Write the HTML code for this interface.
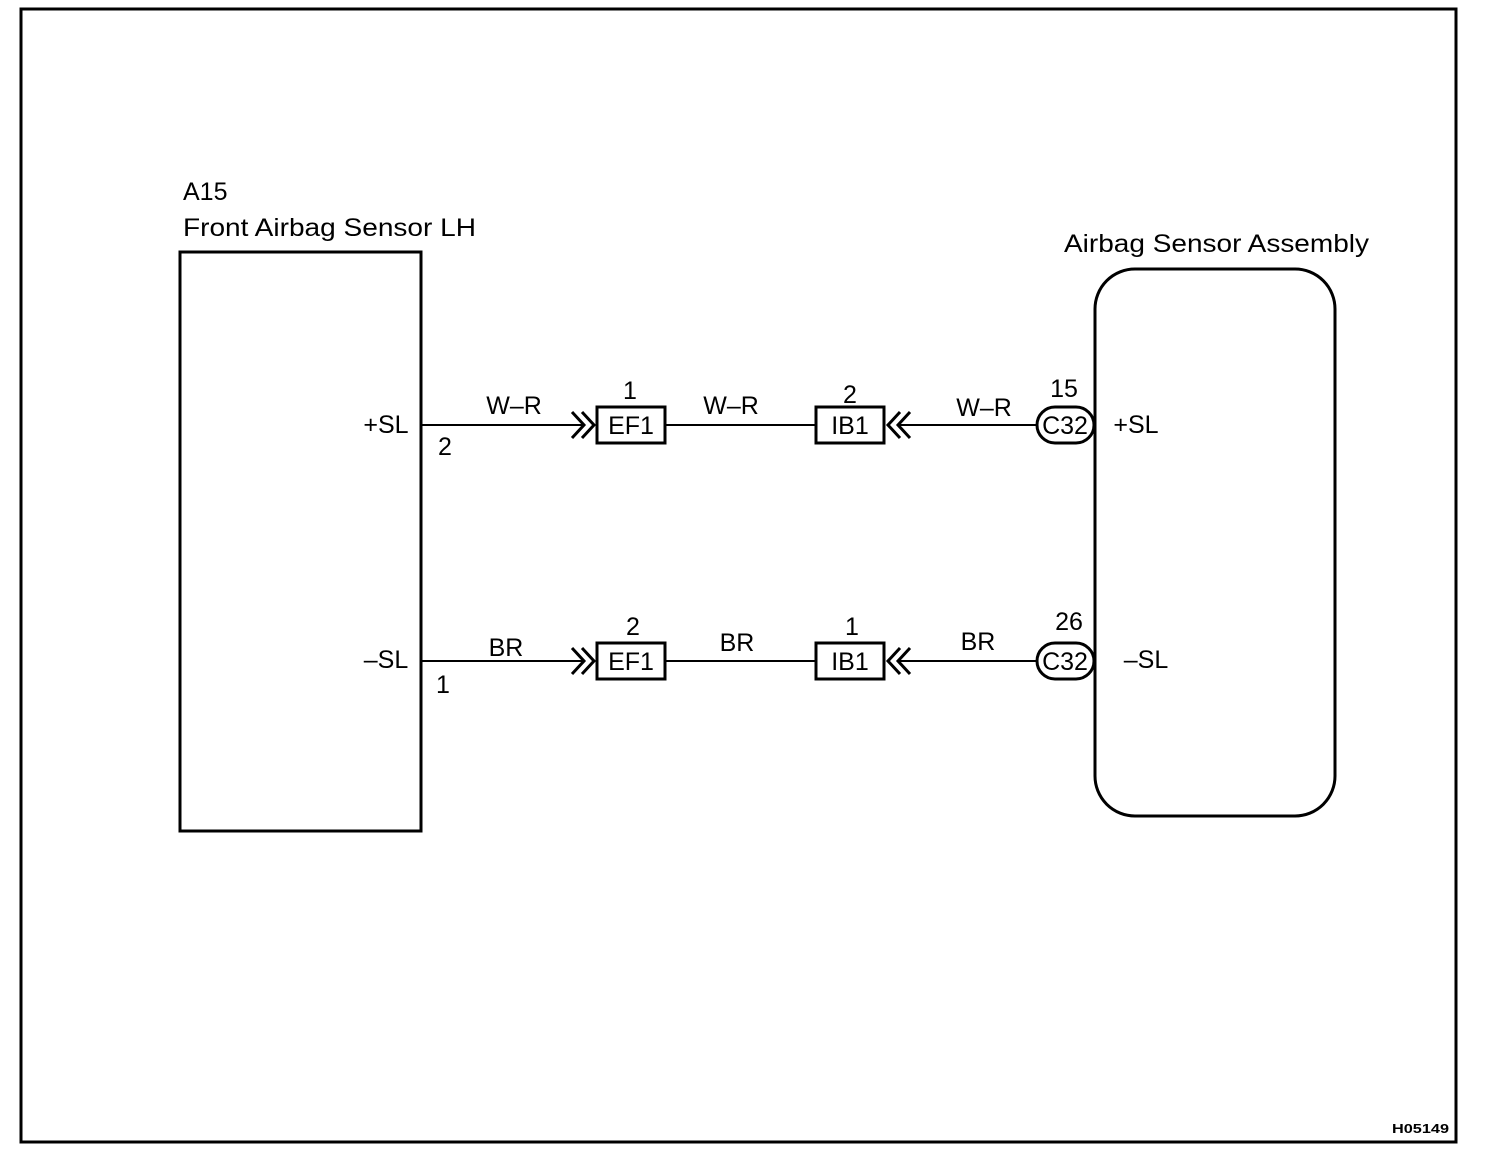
<!DOCTYPE html>
<html><head><style>html,body{margin:0;padding:0;background:#fff}svg{display:block}</style></head>
<body>
<svg width="1504" height="1176" viewBox="0 0 1504 1176" xmlns="http://www.w3.org/2000/svg" font-family="Liberation Sans, Arial, sans-serif" fill="#000">
<rect x="21" y="9" width="1435" height="1133" fill="none" stroke="#000" stroke-width="3"/>
<text x="1392" y="1133" font-size="13" font-weight="bold" textLength="57" lengthAdjust="spacingAndGlyphs">H05149</text>
<text x="183" y="200" font-size="25">A15</text>
<text x="183" y="236" font-size="25" textLength="293" lengthAdjust="spacingAndGlyphs">Front Airbag Sensor LH</text>
<rect x="180" y="252" width="241" height="579" fill="none" stroke="#000" stroke-width="3"/>
<text x="1064" y="252" font-size="25" textLength="305" lengthAdjust="spacingAndGlyphs">Airbag Sensor Assembly</text>
<rect x="1095" y="269" width="240" height="547" rx="40" fill="none" stroke="#000" stroke-width="3"/>
<g stroke="#000" fill="none" stroke-width="2">
<line x1="421" y1="425" x2="584" y2="425"/><line x1="666" y1="425" x2="815" y2="425"/><line x1="898" y1="425" x2="1036" y2="425"/>
<line x1="421" y1="661" x2="584" y2="661"/><line x1="666" y1="661" x2="815" y2="661"/><line x1="898" y1="661" x2="1036" y2="661"/>
</g>
<g stroke="#000" fill="none" stroke-width="3">
<path d="M572 412 L584 425 L572 438 M582 412 L594 425 L582 438"/>
<path d="M572 648 L584 661 L572 674 M582 648 L594 661 L582 674"/>
<path d="M900 412 L888 425 L900 438 M910 412 L898 425 L910 438"/>
<path d="M900 648 L888 661 L900 674 M910 648 L898 661 L910 674"/>
<rect x="597" y="407" width="68" height="36"/><rect x="816" y="407" width="68" height="36"/>
<rect x="597" y="643" width="68" height="36"/><rect x="816" y="643" width="68" height="36"/>
<rect x="1037" y="407" width="57" height="36" rx="18"/><rect x="1037" y="643" width="57" height="36" rx="18"/>
</g>
<g font-size="25" text-anchor="middle">
<text x="631" y="434">EF1</text><text x="850" y="434">IB1</text><text x="1065" y="434">C32</text>
<text x="631" y="670">EF1</text><text x="850" y="670">IB1</text><text x="1065" y="670">C32</text>
<text x="630" y="399">1</text><text x="850" y="403">2</text><text x="1064" y="397">15</text>
<text x="633" y="635">2</text><text x="852" y="635">1</text><text x="1069" y="630">26</text>
<text x="514" y="414">W–R</text><text x="731" y="414">W–R</text><text x="984" y="416">W–R</text>
<text x="506" y="656">BR</text><text x="737" y="651">BR</text><text x="978" y="650">BR</text>
<text x="386" y="433">+SL</text><text x="386" y="668">–SL</text>
<text x="445" y="455">2</text><text x="443" y="693">1</text>
<text x="1136" y="433">+SL</text><text x="1146" y="668">–SL</text>
</g>
</svg>
</body></html>
